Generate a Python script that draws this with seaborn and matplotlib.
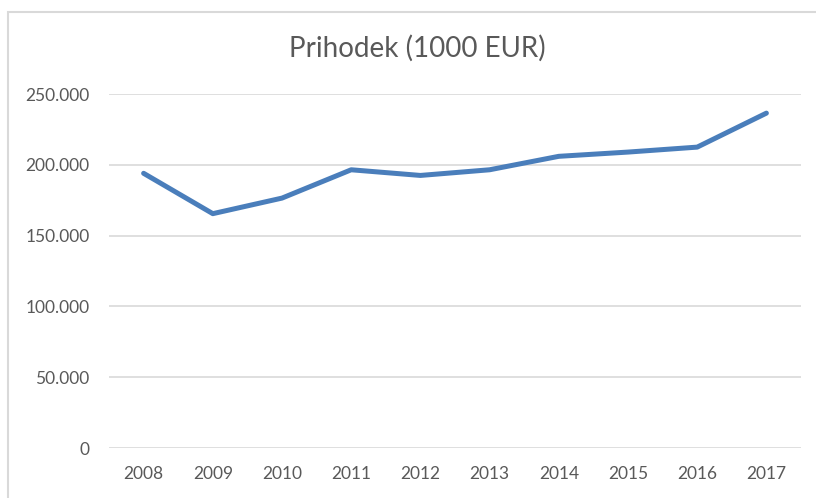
import pandas as pd
import seaborn as sns
import matplotlib.pyplot as plt
from matplotlib.patches import Rectangle
from matplotlib.ticker import FuncFormatter

years = [2008, 2009, 2010, 2011, 2012, 2013, 2014, 2015, 2016, 2017]
prihodek = [194000, 165500, 176500, 196500, 192500, 196500, 206000, 209000, 212500, 236500]

df = pd.DataFrame({'leto': years, 'prihodek': prihodek})

sns.set_theme(style='white')
plt.rcParams['font.family'] = ['Lato', 'DejaVu Sans']

fig = plt.figure(figsize=(8.16, 4.98), dpi=100)
ax = fig.add_axes([0.1336, 0.1004, 0.848, 0.7108])

sns.lineplot(x='leto', y='prihodek', data=df, ax=ax, color='#4A7EBB', linewidth=3.6,
             solid_capstyle='round', solid_joinstyle='round')

ax.set_xlim(2007.5, 2017.5)
ax.set_ylim(0, 250000)
ax.set_xticks(years)
ax.set_yticks(range(0, 250001, 50000))
ax.yaxis.set_major_formatter(FuncFormatter(lambda v, p: f'{int(v):,}'.replace(',', '.')))
ax.grid(axis='y', color='#D9D9D9', linewidth=1.2)
ax.set_axisbelow(True)
for s in ax.spines.values():
    s.set_visible(False)
ax.tick_params(axis='both', length=0, labelsize=12.5, labelcolor='#595959')
ax.tick_params(axis='x', pad=13)
ax.tick_params(axis='y', pad=14)
ax.set_xlabel('')
ax.set_ylabel('')

fig.text(0.512, 0.903, 'Prihodek (1000 EUR)', ha='center', va='center', fontsize=20, color='#595959')

# chart frame
fig.add_artist(Rectangle((8 / 816, -0.05), 1.1, 1 - 12 / 498 + 0.05, transform=fig.transFigure,
                         fill=False, edgecolor='#D9D9D9', linewidth=1.5))

plt.savefig('out.png', dpi=100)
